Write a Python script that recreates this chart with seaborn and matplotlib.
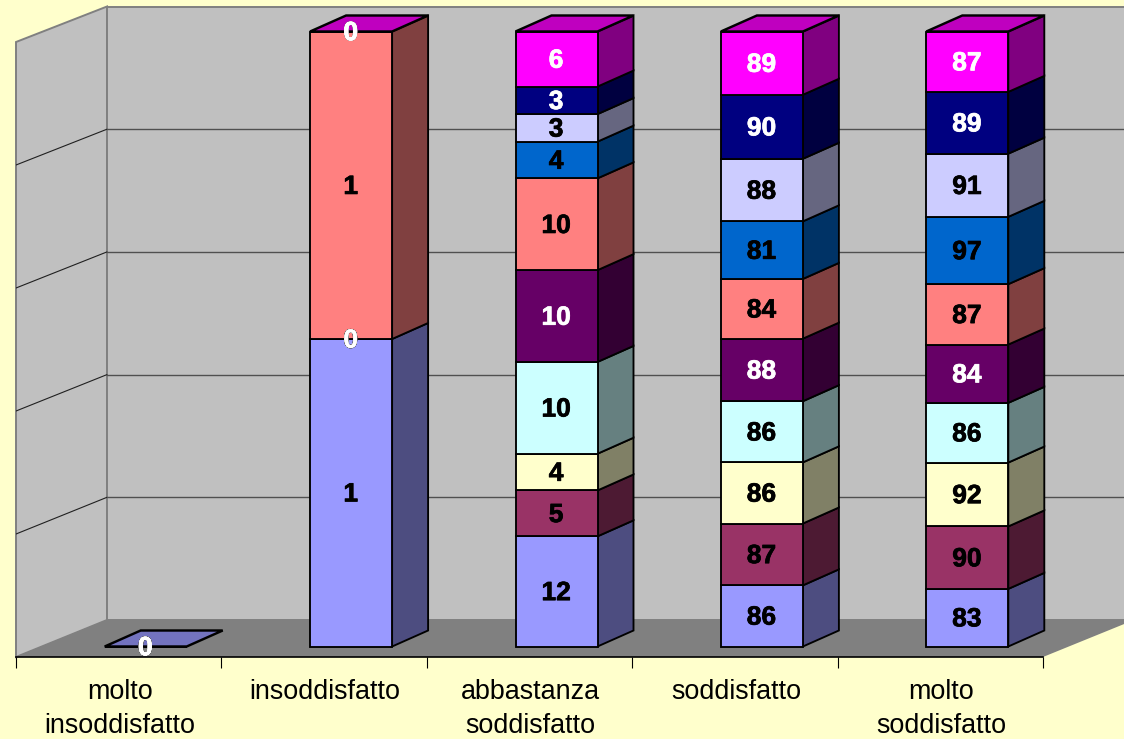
import numpy as np
import pandas as pd
import matplotlib
matplotlib.use("Agg")
import matplotlib.pyplot as plt
import matplotlib.patheffects as pe
from matplotlib.colors import to_rgb
from matplotlib.patches import Polygon
from matplotlib.transforms import ScaledTranslation
import seaborn as sns

categories = ["molto\ninsoddisfatto", "insoddisfatto", "abbastanza\nsoddisfatto", "soddisfatto", "molto\nsoddisfatto"]
series_1 = [0, 1, 12, 86, 83]
series_2 = [0, 0, 5, 87, 90]
series_3 = [0, 0, 4, 86, 92]
series_4 = [0, 0, 10, 86, 86]
series_5 = [0, 0, 10, 88, 84]
series_6 = [0, 1, 10, 84, 87]
series_7 = [0, 0, 4, 81, 97]
series_8 = [0, 0, 3, 88, 91]
series_9 = [0, 0, 3, 90, 89]
series_10 = [0, 0, 6, 89, 87]
all_series = [series_1, series_2, series_3, series_4, series_5,
              series_6, series_7, series_8, series_9, series_10]
colors = ["#9999FF", "#993366", "#FFFFCC", "#CCFFFF", "#660066",
          "#FF8080", "#0066CC", "#CCCCFF", "#000080", "#FF00FF"]
label_colors = ["black", "black", "black", "black", "white",
                "black", "black", "black", "white", "white"]
grid_levels = [0, 0.2, 0.4, 0.6, 0.8, 1.0]

sns.set_theme(style="white")
plt.rcParams["font.family"] = ["Liberation Sans", "DejaVu Sans"]

BG = "#FFFFCC"
W, H = 1124, 739
fig = plt.figure(figsize=(W / 100, H / 100), dpi=100, facecolor=BG)
ax = fig.add_axes([16 / W, (H - 657) / H, (1043 - 16) / W, 657 / H])
ax.patch.set_alpha(0)

unit_x = (1043 - 16) / 5          # pixels per category
unit_y = 615.0                    # pixels per 100 %
y_low, y_high = -10.5 / unit_y, 646.5 / unit_y
ax.set_xlim(-0.5, 4.5)
ax.set_ylim(y_low, y_high)

# 3-D depth of the box and of the bars
wall_dx, wall_dy = 91 / unit_x, 37 / unit_y
bar_dx, bar_dy = 36 / unit_x, 16 / unit_y
bar_shift = 27 / unit_x
bar_w = 82 / unit_x
y0 = y_low
back_h = 613.5 / unit_y

# walls and floor
x_l, x_r = -0.5, 4.5
ax.add_patch(Polygon([(x_l, y0), (x_l + wall_dx, y0 + wall_dy), (x_l + wall_dx, back_h + y0 + wall_dy), (x_l, 1 + y0)],
                     fc="#C0C0C0", ec="#808080", lw=1.4, zorder=0.1, clip_on=False))
ax.add_patch(Polygon([(x_l + wall_dx, y0 + wall_dy), (x_r + wall_dx, y0 + wall_dy),
                      (x_r + wall_dx, back_h + y0 + wall_dy), (x_l + wall_dx, back_h + y0 + wall_dy)],
                     fc="#C0C0C0", ec="#808080", lw=1.4, zorder=0.2, clip_on=False))
ax.add_patch(Polygon([(x_l, y0), (x_l + wall_dx, y0 + wall_dy), (x_r + wall_dx, y0 + wall_dy), (x_r, y0)],
                     fc="#808080", ec="none", zorder=0.3, clip_on=False))
for g in grid_levels[1:-1]:
    ax.plot([x_l, x_l + wall_dx], [y0 + g, y0 + g * back_h + wall_dy], color="#202020", lw=0.8, zorder=0.4)
    ax.plot([x_l + wall_dx, x_r + wall_dx], [y0 + g * back_h + wall_dy] * 2, color="#505050", lw=1.0,
            zorder=0.4, clip_on=False)

# 100 % stacked shares
values = np.array(all_series, dtype=float)
totals = values.sum(axis=0)
safe = np.where(totals > 0, totals, 1)
shares = values / safe
bottoms = np.vstack([np.zeros(len(categories)), np.cumsum(shares, axis=0)[:-1]])
positions = np.arange(len(categories)) + bar_shift


def shade(c, f):
    return tuple(v * f for v in to_rgb(c))


EDGE_LW = 1.35
for s, color in enumerate(colors):
    df = pd.DataFrame({"pos": positions, "share": shares[s]})
    sns.barplot(data=df, x="pos", y="share", bottom=bottoms[s], color=color, saturation=1,
                width=bar_w, native_scale=True, errorbar=None, ax=ax,
                edgecolor="black", linewidth=EDGE_LW, zorder=2)
    for c, x in enumerate(positions):
        lo, hi = bottoms[s][c], bottoms[s][c] + shares[s][c]
        xr = x + bar_w / 2
        if hi > lo:
            ax.add_patch(Polygon([(xr, lo), (xr + bar_dx, lo + bar_dy), (xr + bar_dx, hi + bar_dy), (xr, hi)],
                                 fc=shade(color, 0.5), ec="black", lw=EDGE_LW, zorder=1.5, clip_on=False))

# top faces
for c, x in enumerate(positions):
    top = (bottoms[:, c] + shares[:, c]).max()
    top_color = colors[-1] if totals[c] > 0 else colors[0]
    xl, xr = x - bar_w / 2, x + bar_w / 2
    ax.add_patch(Polygon([(xl, top), (xl + bar_dx, top + bar_dy), (xr + bar_dx, top + bar_dy), (xr, top)],
                         fc=shade(top_color, 0.75), ec="black", lw=EDGE_LW + 0.4, zorder=2.5, clip_on=False))

# data labels
for s in range(len(colors)):
    for c, x in enumerate(positions):
        t = ax.text(x - 0.002, bottoms[s][c] + shares[s][c] / 2 + 0.8 / unit_y, f"{int(values[s][c])}",
                    ha="center", va="center_baseline", fontsize=19, fontweight="bold",
                    color=label_colors[s], zorder=3 + s * 0.01)
        t.set_path_effects([pe.withStroke(linewidth=0.5, foreground=label_colors[s])])

# axis
ax.set_xlabel("")
ax.set_ylabel("")
ax.set_yticks([])
ax.set_xticks(np.arange(len(categories)))
ax.set_xticklabels(categories, fontsize=19.4, color="black", linespacing=1.38)
ax.set_xticks(np.arange(len(categories) + 1) - 0.5, minor=True)
ax.tick_params(axis="x", which="major", length=0, pad=16)
ax.tick_params(axis="x", which="minor", length=8, width=0.8, color="black", bottom=True)
for lab in ax.get_xticklabels():
    lab.set_transform(lab.get_transform() + ScaledTranslation(1 / 100, 0, fig.dpi_scale_trans))
for name in ["top", "left", "right"]:
    ax.spines[name].set_visible(False)
ax.spines["bottom"].set_color("black")
ax.spines["bottom"].set_linewidth(1.2)
ax.set_xlim(-0.5, 4.5)
ax.set_ylim(y_low, y_high)

fig.savefig("out.png", dpi=100, facecolor=BG)
